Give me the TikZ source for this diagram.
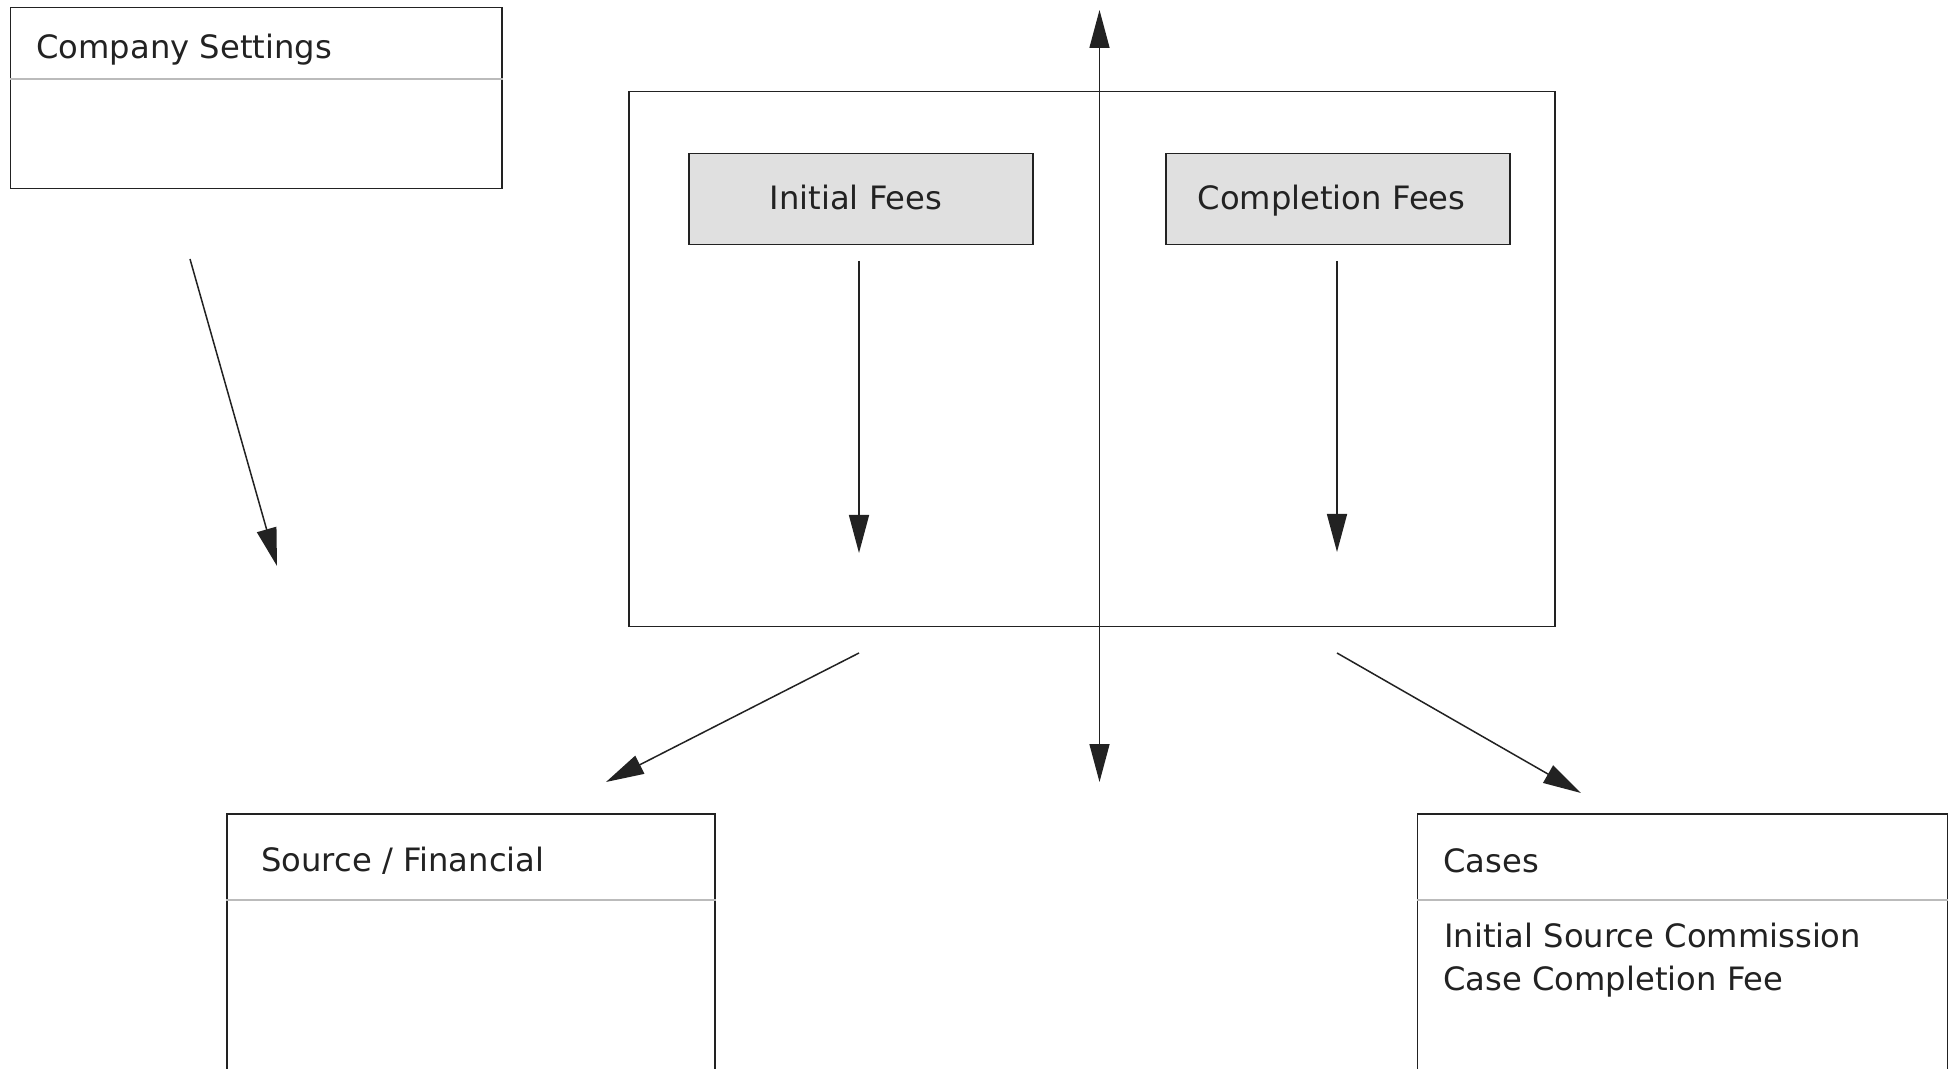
\documentclass[tikz,border=0pt]{standalone}
\usepackage{fontspec}
\setmainfont{DejaVu Sans}
\usetikzlibrary{arrows.meta}
\definecolor{ink}{HTML}{222222}
\definecolor{feefill}{HTML}{E0E0E0}
\definecolor{divider}{HTML}{BBBBBB}
\tikzset{
  box/.style={draw=ink, line width=0.75pt, inner sep=0pt, anchor=north west},
  feebox/.style={box, fill=feefill},
  lbl/.style={inner sep=0pt, anchor=base west, text=ink, font=\fontsize{16.1pt}{19pt}\selectfont},
  feelbl/.style={inner sep=0pt, anchor=base, text=ink, font=\fontsize{16.1pt}{19pt}\selectfont},
  divline/.style={draw=divider, line width=0.6pt},
  arr/.style={draw=ink, line width=0.75pt, -{Triangle[length=19pt,width=10pt]}},
  darr/.style={draw=ink, line width=0.75pt, {Triangle[length=19pt,width=10pt]}-{Triangle[length=19pt,width=10pt]}}
}
\begin{document}
\begin{tikzpicture}[x=0.5pt,y=-0.5pt]
\clip (0,0) rectangle (1950,1069);
\fill[white] (0,0) rectangle (1950,1069);

% Company Settings
\node[box, minimum width=245.75pt, minimum height=90.5pt] (cs) at (9.5,7) {};
\draw[divline] (cs.west |- 0,79) -- (cs.east |- 0,79);
\node[lbl] (cstitle) at (36,59) {Company Settings};

% Container
\node[box, minimum width=463pt, minimum height=267.25pt] (cont) at (628,91) {};
\node[feebox, minimum width=172pt, minimum height=45.5pt] (initf) at (688,153) {};
\node[feelbl] (initt) at (856,210) {Initial Fees};
\node[feebox, minimum width=172pt, minimum height=45.5pt] (compf) at (1165,153) {};
\node[feelbl] (compt) at (1331.5,210) {Completion Fees};

% Source / Financial
\node[box, minimum width=244pt, minimum height=150pt] (src) at (226,813) {};
\draw[divline] (src.west |- 0,900) -- (src.east |- 0,900);
\node[lbl] (srctitle) at (261,871) {Source / Financial};

% Cases
\node[box, minimum width=265pt, minimum height=150pt] (cases) at (1416.5,813) {};
\draw[divline] (cases.west |- 0,900) -- (cases.east |- 0,900);
\node[lbl] (casestitle) at (1443,872) {Cases};
\node[lbl] (casesl1) at (1444,947) {Initial Source Commission};
\node[lbl] (casesl2) at (1443,990) {Case Completion Fee};

% connector coordinates
\coordinate (vtop) at (1099.5,10);
\coordinate (vbot) at (1099.5,782);
\coordinate (ia) at (859,261);
\coordinate (ib) at (859,553);
\coordinate (ca) at (1337,261);
\coordinate (cb) at (1337,552);
\coordinate (sa) at (190,259);
\coordinate (sb) at (277,566);
\coordinate (la) at (859,653);
\coordinate (lb) at (606,782);
\coordinate (ra) at (1337,653);
\coordinate (rb) at (1581,793);

\draw[darr] (vtop) -- (vbot);
\draw[arr] (ia) -- (ib);
\draw[arr] (ca) -- (cb);
\draw[arr] (sa) -- (sb);
\draw[arr] (la) -- (lb);
\draw[arr] (ra) -- (rb);
\end{tikzpicture}
\end{document}
